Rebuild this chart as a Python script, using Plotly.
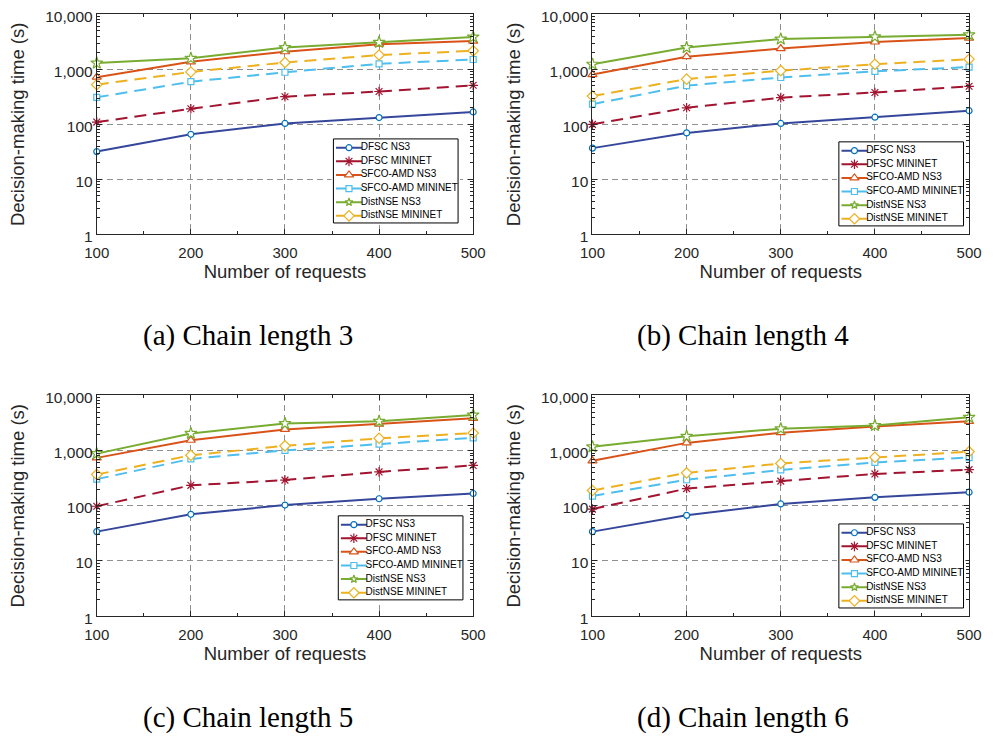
import plotly.graph_objects as go

# ---------------------------------------------------------------- data
REQUESTS = [100, 200, 300, 400, 500]
SERIES = ["DFSC NS3", "DFSC MININET", "SFCO-AMD NS3",
          "SFCO-AMD MININET", "DistNSE NS3", "DistNSE MININET"]
Y_TICKS = [1, 10, 100, 1000, 10000]
Y_TICK_TEXT = ["1", "10", "100", "1,000", "10,000"]
X_TITLE = "Number of requests"
Y_TITLE = "Decision-making time (s)"
CAPTIONS = ["(a) Chain length 3", "(b) Chain length 4",
            "(c) Chain length 5", "(d) Chain length 6"]

# chain length 3
L3_DFSC_NS3 = [32, 66, 104, 133, 168]
L3_DFSC_MININET = [110, 192, 318, 396, 513]
L3_SFCO_NS3 = [720, 1370, 2090, 2860, 3270]
L3_SFCO_MININET = [310, 596, 885, 1260, 1510]
L3_DIST_NS3 = [1300, 1590, 2490, 3100, 3860]
L3_DIST_MININET = [527, 897, 1330, 1820, 2170]

# chain length 4
L4_DFSC_NS3 = [37, 70, 104, 135, 177]
L4_DFSC_MININET = [100, 200, 306, 380, 492]
L4_SFCO_NS3 = [804, 1700, 2390, 3140, 3700]
L4_SFCO_MININET = [233, 506, 711, 921, 1100]
L4_DIST_NS3 = [1240, 2490, 3550, 3910, 4240]
L4_DIST_MININET = [327, 664, 946, 1240, 1530]

# chain length 5
L5_DFSC_NS3 = [34, 70, 103, 134, 167]
L5_DFSC_MININET = [98, 235, 292, 411, 539]
L5_SFCO_NS3 = [738, 1540, 2420, 3010, 3850]
L5_SFCO_MININET = [304, 708, 1010, 1310, 1700]
L5_DIST_NS3 = [881, 2050, 3090, 3400, 4410]
L5_DIST_MININET = [368, 824, 1220, 1670, 2080]

# chain length 6
L6_DFSC_NS3 = [34, 67, 108, 142, 176]
L6_DFSC_MININET = [87, 205, 280, 378, 452]
L6_SFCO_NS3 = [653, 1380, 2110, 2740, 3400]
L6_SFCO_MININET = [150, 296, 446, 610, 748]
L6_DIST_NS3 = [1170, 1820, 2490, 2850, 4010]
L6_DIST_MININET = [189, 394, 585, 759, 957]

PANELS = [
    [L3_DFSC_NS3, L3_DFSC_MININET, L3_SFCO_NS3, L3_SFCO_MININET, L3_DIST_NS3, L3_DIST_MININET],
    [L4_DFSC_NS3, L4_DFSC_MININET, L4_SFCO_NS3, L4_SFCO_MININET, L4_DIST_NS3, L4_DIST_MININET],
    [L5_DFSC_NS3, L5_DFSC_MININET, L5_SFCO_NS3, L5_SFCO_MININET, L5_DIST_NS3, L5_DIST_MININET],
    [L6_DFSC_NS3, L6_DFSC_MININET, L6_SFCO_NS3, L6_SFCO_MININET, L6_DIST_NS3, L6_DIST_MININET],
]

# ---------------------------------------------------------------- styles
W, H = 996, 746
SANS = "Liberation Sans, Arial, sans-serif"
SERIF = "Liberation Serif, Times New Roman, serif"
AXIS_COLOR = "#262626"
GRID_COLOR = "#8f8f8f"

STYLES = [
    dict(line="#36479b", mc="#0072BD", dash="solid", symbol="circle", size=6, leg=6),
    dict(line="#A2142F", mc="#A2142F", dash="12px,7px", symbol="asterisk-open", size=8, leg=8),
    dict(line="#D95319", mc="#D95319", dash="solid", symbol="triangle-up", size=8, leg=8),
    dict(line="#4DBEEE", mc="#4DBEEE", dash="12px,7px", symbol="square", size=6, leg=6),
    dict(line="#77AC30", mc="#77AC30", dash="solid", symbol="star", size=9, leg=6),
    dict(line="#EDB120", mc="#EDB120", dash="12px,7px", symbol="diamond", size=8, leg=8),
]

# plot areas in pixels: (left, right, top, bottom)
PLOT_BOXES = [
    (86, 472.5, 7.5, 232.7),
    (595, 981.7, 7.5, 232.7),
    (86, 472.5, 397.5, 623.3),
    (595, 981.7, 397.5, 623.3),
]
# legend boxes in pixels: (left, top), size 128 x 86
LEGEND_BOXES = [(329, 135), (848, 138), (334, 520.7), (848, 529)]
LEG_W, LEG_H = 128, 86
CAPTION_POS = [(241, 336), (750, 336), (241, 727), (750, 727)]


def xdom(l, r):
    return [l / W, r / W]


def ydom(t, b):
    return [1 - b / H, 1 - t / H]


def marker_for(st, size):
    if st["symbol"].endswith("-open"):
        return dict(symbol=st["symbol"], size=size, color=st["mc"],
                    line=dict(color=st["mc"], width=1.2))
    return dict(symbol=st["symbol"], size=size, color="white",
                line=dict(color=st["mc"], width=1.2))


fig = go.Figure()
layout = dict(
    width=W, height=H, margin=dict(l=0, r=0, t=0, b=0),
    paper_bgcolor="white", plot_bgcolor="white", showlegend=False,
    font=dict(family=SANS, color=AXIS_COLOR),
)

minor_log = [m * 10 ** k for k in range(4) for m in range(2, 10)]

for p, (values, box) in enumerate(zip(PANELS, PLOT_BOXES)):
    n = p + 1
    xa, ya = ("x" if n == 1 else f"x{n}"), ("y" if n == 1 else f"y{n}")
    xkey, ykey = ("xaxis" if n == 1 else f"xaxis{n}"), ("yaxis" if n == 1 else f"yaxis{n}")
    l, r, t, b = box
    layout[xkey] = dict(
        domain=xdom(l, r), anchor=ya, range=[100, 500],
        tickmode="array", tickvals=REQUESTS,
        ticks="inside", ticklen=5, tickwidth=1, tickcolor=AXIS_COLOR,
        showline=True, linecolor=AXIS_COLOR, linewidth=1, mirror="ticks",
        showgrid=True, gridcolor=GRID_COLOR, gridwidth=1, griddash="6px,4px",
        zeroline=False,
        minor=dict(ticks="inside", ticklen=3, tickcolor=AXIS_COLOR,
                   tickvals=[150, 250, 350, 450], showgrid=False),
        tickfont=dict(family=SANS, size=15, color=AXIS_COLOR),
        ticklabelstandoff=5,
        title=dict(text=X_TITLE, standoff=0,
                   font=dict(family=SANS, size=18.5, color=AXIS_COLOR)),
    )
    layout[ykey] = dict(
        domain=ydom(t, b), anchor=xa, type="log", range=[0, 4],
        tickmode="array", tickvals=Y_TICKS, ticktext=Y_TICK_TEXT,
        ticks="inside", ticklen=5, tickwidth=1, tickcolor=AXIS_COLOR,
        showline=True, linecolor=AXIS_COLOR, linewidth=1, mirror="ticks",
        showgrid=True, gridcolor=GRID_COLOR, gridwidth=1, griddash="6px,4px",
        zeroline=False,
        minor=dict(ticks="inside", ticklen=3, tickcolor=AXIS_COLOR,
                   tickvals=minor_log, showgrid=False),
        tickfont=dict(family=SANS, size=15.5, color=AXIS_COLOR),
        ticklabelshift=2,
        title=dict(text=Y_TITLE, standoff=15,
                   font=dict(family=SANS, size=18.5, color=AXIS_COLOR)),
    )
    for vals, st in zip(values, STYLES):
        fig.add_trace(go.Scatter(
            x=REQUESTS, y=vals, mode="lines+markers", xaxis=xa, yaxis=ya,
            line=dict(color=st["line"], width=2, dash=st["dash"]),
            marker=marker_for(st, st["size"]), cliponaxis=False, hoverinfo="x+y",
        ))

# ---------------------------------------------------------------- legends
for p, (lx, ly) in enumerate(LEGEND_BOXES):
    n = 5 + p
    xa, ya = f"x{n}", f"y{n}"
    layout[f"xaxis{n}"] = dict(domain=xdom(lx - 2, lx + LEG_W + 2), range=[-2, LEG_W + 2],
                               anchor=ya, visible=False, fixedrange=True)
    layout[f"yaxis{n}"] = dict(domain=ydom(ly - 2, ly + LEG_H + 2), range=[LEG_H + 2, -2],
                               anchor=xa, visible=False, fixedrange=True)
    fig.add_trace(go.Scatter(
        x=[0, LEG_W, LEG_W, 0, 0], y=[0, 0, LEG_H, LEG_H, 0], mode="lines",
        fill="toself", fillcolor="white", line=dict(color="black", width=1),
        xaxis=xa, yaxis=ya, hoverinfo="skip",
    ))
    for i, (name, st) in enumerate(zip(SERIES, STYLES)):
        yy = 9 + 13.94 * i
        fig.add_trace(go.Scatter(
            x=[2.7, 29.3], y=[yy, yy], mode="lines", xaxis=xa, yaxis=ya,
            line=dict(color=st["line"], width=2), hoverinfo="skip",
        ))
        fig.add_trace(go.Scatter(
            x=[16], y=[yy], mode="markers", xaxis=xa, yaxis=ya,
            marker=marker_for(st, st["leg"]), hoverinfo="skip", cliponaxis=False,
        ))
        fig.add_trace(go.Scatter(
            x=[28], y=[yy], mode="text", text=[name], textposition="middle right",
            textfont=dict(family=SANS, size=10, color="black"),
            xaxis=xa, yaxis=ya, hoverinfo="skip", cliponaxis=False,
        ))

# ---------------------------------------------------------------- captions
layout["annotations"] = [
    dict(text=cap, x=cx / W, y=1 - cy / H, xref="paper", yref="paper",
         xanchor="center", yanchor="middle", showarrow=False,
         font=dict(family=SERIF, size=29, color="black"))
    for cap, (cx, cy) in zip(CAPTIONS, CAPTION_POS)
]

fig.update_layout(**layout)
fig.write_html("out.html")
